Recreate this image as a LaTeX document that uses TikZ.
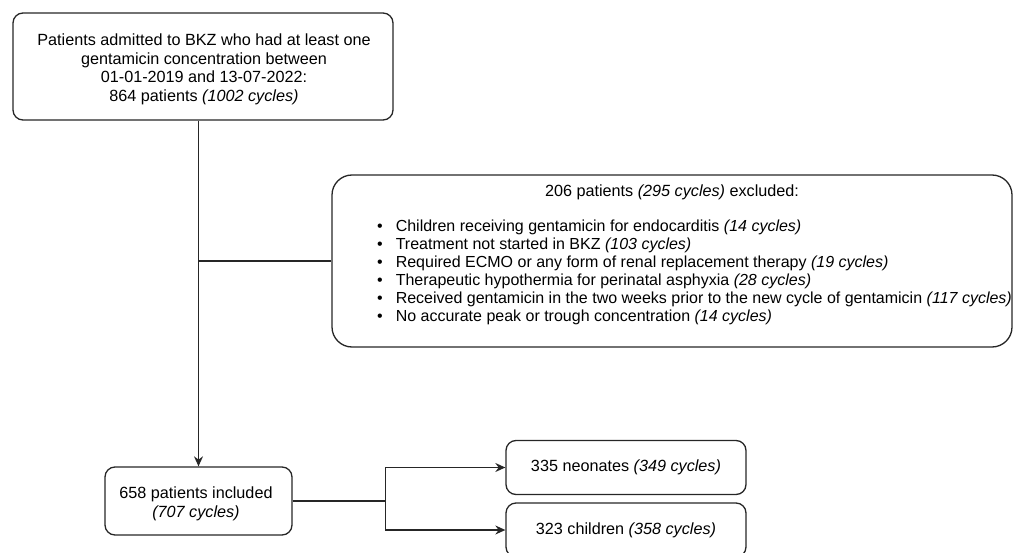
\documentclass[tikz,border=0pt]{standalone}
\usepackage{fontspec}
\setmainfont{Liberation Sans}
\usetikzlibrary{arrows.meta}
\begin{document}
\begin{tikzpicture}[x=1pt,y=-1pt, font=\fontsize{16.2}{18.5}\selectfont,
  box/.style={draw=black!85, line width=1.3pt, rounded corners=10pt, align=center, inner sep=0pt},
  conn/.style={line width=1.3pt, draw=black!85},
  arr/.style={conn, -{Stealth[length=10pt,width=9pt]}}]
\useasboundingbox (0,0) rectangle (1014,553);
\clip (0,0) rectangle (1014,553);
\node[box, minimum width=380pt, minimum height=107pt] (top) at (203,66.5) {};
\node[inner sep=0pt, align=center, font=\fontsize{16.2}{18.6}\selectfont] (toptext) at (204,69.5)
  {Patients admitted to BKZ who had at least one\\ gentamicin concentration between\\ 01-01-2019 and 13-07-2022:\\ 864 patients \textit{(1002 cycles)}};
\node[box, rounded corners=20pt, minimum width=680pt, minimum height=172pt] (excl) at (672,261) {};
\node[inner sep=0pt] (exhead) at (672,192) {206 patients \textit{(295 cycles)} excluded:};
\node[anchor=west, inner sep=0pt] (exlist) at (377,273) {\fontsize{16}{18}\selectfont\begin{tabular}{@{}l@{\hspace{13pt}}l@{}}
\textbullet & Children receiving gentamicin for endocarditis \textit{(14 cycles)}\\
\textbullet & Treatment not started in BKZ \textit{(103 cycles)}\\
\textbullet & Required ECMO or any form of renal replacement therapy \textit{(19 cycles)}\\
\textbullet & Therapeutic hypothermia for perinatal asphyxia \textit{(28 cycles)}\\
\textbullet & Received gentamicin in the two weeks prior to the new cycle of gentamicin \textit{(117 cycles)}\\
\textbullet & No accurate peak or trough concentration \textit{(14 cycles)}
\end{tabular}};
\node[box, minimum width=187pt, minimum height=68pt] (inc) at (198.5,501) {};
\node[inner sep=0pt, align=center, font=\fontsize{16.2}{19}\selectfont] (inctext) at (196,504) {658 patients included\\ \textit{(707 cycles)}};
\node[box, minimum width=240pt, minimum height=54pt] (neo) at (626,467.5) {335 neonates \textit{(349 cycles)}};
\node[box, minimum width=240pt, minimum height=54pt] (chi) at (626,530) {323 children \textit{(358 cycles)}};
\draw[arr] (top.south -| inc.north) -- (inc.north);
\coordinate (j) at (inc.north |- excl.west);
\draw[conn] (j) -- (excl.west);
\coordinate (b) at ([xshift=93pt]inc.east);
\draw[conn] (inc.east) -- (b);
\draw[arr] (b) |- (neo.west);
\draw[arr] (b) |- (chi.west);
\end{tikzpicture}
\end{document}
